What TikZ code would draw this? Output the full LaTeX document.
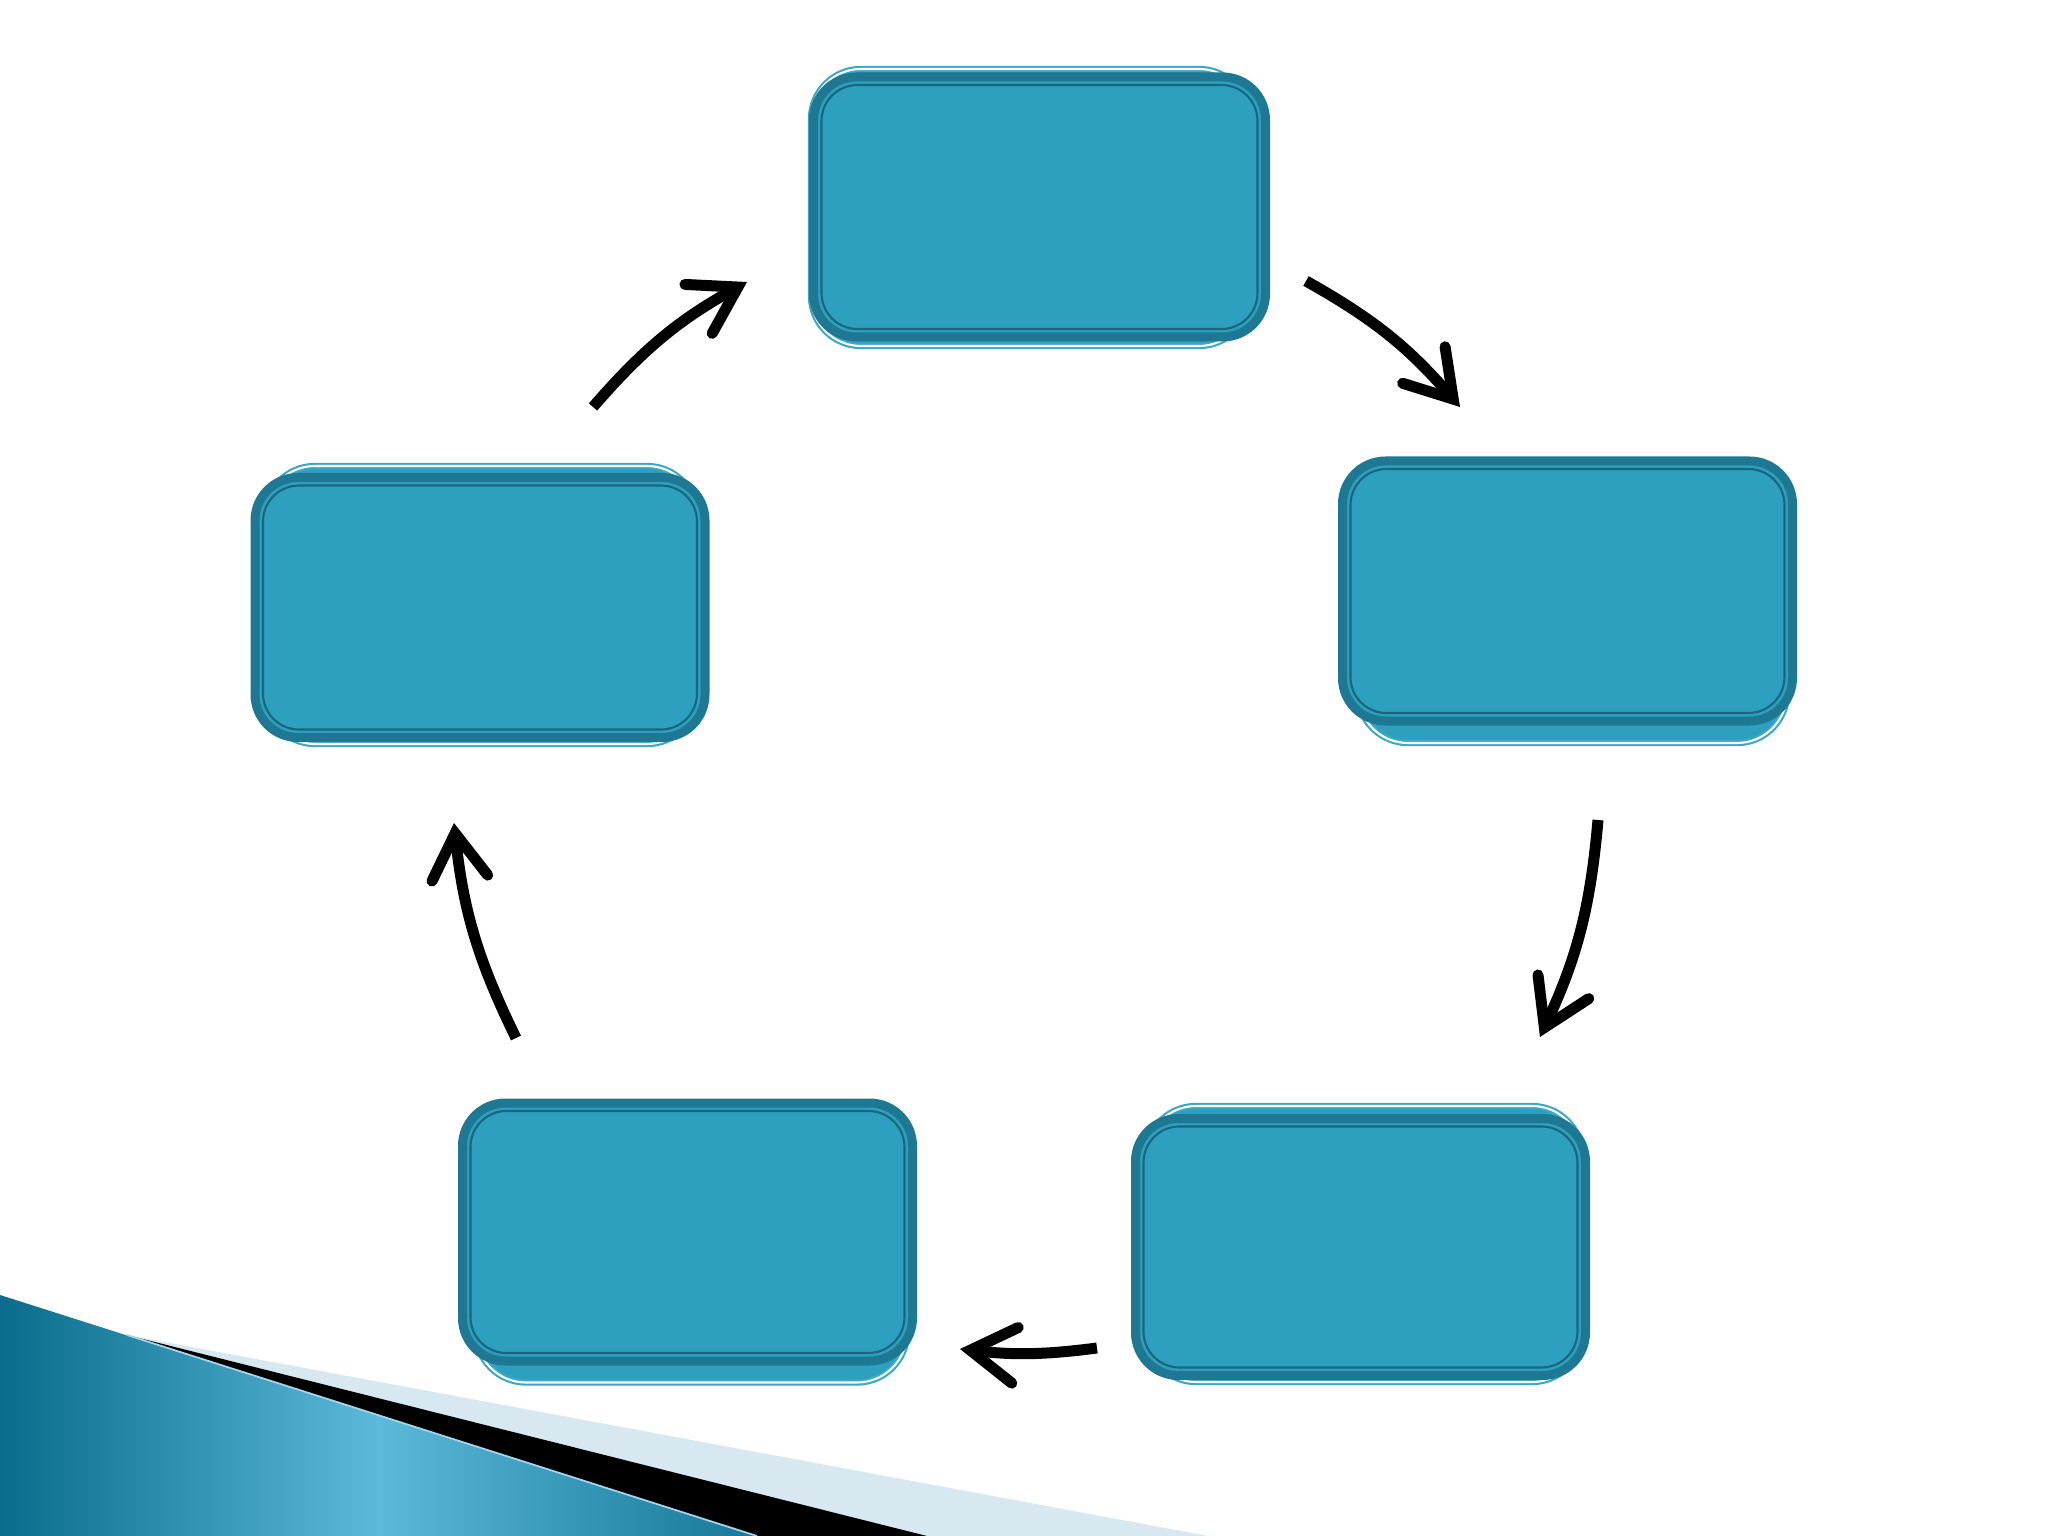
\documentclass[tikz,border=0pt]{standalone}
\usetikzlibrary{arrows.meta,calc}

\definecolor{boxblue}{HTML}{2DA0C0}
\definecolor{boxdark}{HTML}{1F7893}
\definecolor{ghostline}{HTML}{3BA7C7}
\definecolor{bandlight}{HTML}{D8E8F1}
\definecolor{wedgedark}{HTML}{0A6C8C}
\definecolor{wedgelight}{HTML}{5BB9DA}

\begin{document}
\begin{tikzpicture}[
    stepbox/.style={
        draw = boxdark,
        fill = boxblue,
        line width = 0.09cm,
        rounded corners = 0.43cm,
        minimum width = 4.5cm,
        minimum height = 2.6cm,
        inner sep = 0pt,
        outer sep = 0pt,
        },
    ghostbox/.style={
        draw = ghostline,
        double = white,
        double distance = 0.6pt,
        line width = 0.6pt,
        fill = boxblue,
        rounded corners = 0.5cm,
        inner sep = 0pt,
        outer sep = 0pt,
        },
    innerline/.style={
        draw = boxdark!85!black,
        line width = 0.6pt,
        rounded corners = 0.36cm,
        },
    cyclearrow/.style={
        line width = 0.11cm,
        -{Straight Barb[length=0.45cm,width=0.56cm,line cap=round,line join=miter]},
        },
]

\useasboundingbox[fill=white] (0,0) rectangle (20.48,-15.36);

% corner decoration
\fill[bandlight] (1.27,-13.35) -- (12.08,-15.36) -- (9.27,-15.36) -- cycle;
\fill[black] (1.27,-13.35) -- (9.27,-15.36) -- (7.57,-15.36) -- cycle;
\shade[left color=wedgedark, right color=wedgedark!85!wedgelight, middle color=wedgelight]
    (0,-12.95) -- (7.57,-15.36) -- (0,-15.36) -- cycle;
\draw[bandlight!60!wedgelight, line width=0.5pt] (1.27,-13.35) -- (7.57,-15.36);

% shadow boxes
\node[ghostbox, minimum width=4.38cm, minimum height=2.77cm] (top-g) at (10.30,-2.075) {};
\node[ghostbox, minimum width=4.29cm, minimum height=2.72cm] (right-g) at (15.725,-6.07) {};
\node[ghostbox, minimum width=4.36cm, minimum height=2.76cm] (botright-g) at (13.64,-12.44) {};
\node[ghostbox, minimum width=4.31cm, minimum height=2.70cm] (botleft-g) at (6.915,-12.475) {};
\node[ghostbox, minimum width=4.32cm, minimum height=2.78cm] (left-g) at (4.81,-6.05) {};

% steps
\node[stepbox, minimum width=4.52cm] (top) at (10.395,-2.07) {};
\node[stepbox] (right) at (15.675,-5.91) {};
\node[stepbox, minimum height=2.57cm] (botright) at (13.605,-12.47) {};
\node[stepbox, minimum height=2.58cm] (botleft) at (6.875,-12.32) {};
\node[stepbox] (left) at (4.80,-6.075) {};

\foreach \n in {top,right,botright,botleft,left}
    \draw[innerline] ($(\n.south west)+(0.08,0.08)$) rectangle ($(\n.north east)-(0.08,0.08)$);

% arrows
\coordinate (a1s) at (5.93,-4.07);
\coordinate (a1e) at (7.47,-2.82);
\coordinate (a2s) at (13.06,-2.81);
\coordinate (a2e) at (14.60,-4.07);
\coordinate (a3s) at (15.98,-8.20);
\coordinate (a3e) at (15.40,-10.37);
\coordinate (a4s) at (10.97,-13.48);
\coordinate (a4e) at (9.60,-13.49);
\coordinate (a5s) at (5.16,-10.38);
\coordinate (a5e) at (4.54,-8.23);

\draw[cyclearrow] (a1s) to[bend left=10] (a1e);
\draw[cyclearrow] (a2s) to[bend left=10] (a2e);
\draw[cyclearrow] (a3s) to[bend left=10] (a3e);
\draw[cyclearrow] (a4s) to[bend left=7] (a4e);
\draw[cyclearrow] (a5s) to[bend left=10] (a5e);

\end{tikzpicture}
\end{document}
